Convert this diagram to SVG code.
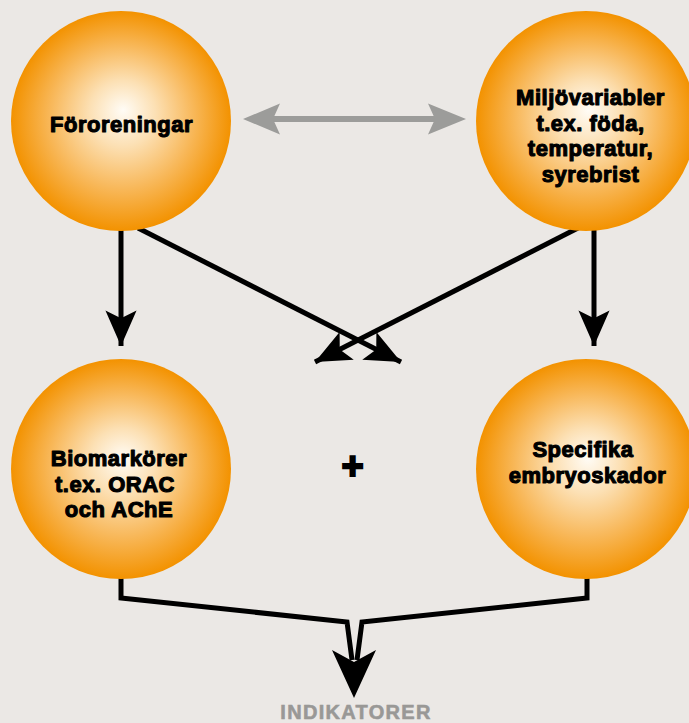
<svg xmlns="http://www.w3.org/2000/svg" width="689" height="723" viewBox="0 0 689 723">
  <style>
    .lbl { font-family: "Liberation Sans", Arial, sans-serif; font-weight: bold; font-size: 22px; letter-spacing: 0.5px; fill: #000; stroke: #000; stroke-width: 1.1px; stroke-linejoin: round; text-anchor: middle; }
    .ind { font-family: "Liberation Sans", Arial, sans-serif; font-weight: bold; font-size: 20px; letter-spacing: 1.3px; fill: #999896; stroke: #999896; stroke-width: 0.6px; text-anchor: middle; }
    .conn { fill: none; stroke: #000; stroke-width: 5; }
    .head { fill: #000; }
    .gray { fill: none; stroke: #9c9c9a; stroke-width: 6; }
    .ghead { fill: #9c9c9a; }
  </style>
  <defs>
    <radialGradient id="orb" cx="0.5" cy="0.5" r="0.5" fx="0.51" fy="0.45">
      <stop offset="0" stop-color="#fffcf6"/>
      <stop offset="0.3" stop-color="#fce0b4"/>
      <stop offset="0.65" stop-color="#f8b85a"/>
      <stop offset="1" stop-color="#f39200"/>
    </radialGradient>
    <marker id="ah" markerUnits="userSpaceOnUse" markerWidth="40" markerHeight="40" viewBox="-34 -16 36 32" refX="0" refY="0" orient="auto">
      <path d="M0,0 L-32,-14 L-25,0 L-32,14 Z" fill="#000"/>
    </marker>
  </defs>
  <rect width="689" height="723" fill="#ebe8e5"/>

  <g id="connectors">
    <g id="gray-double-arrow">
      <line class="gray" x1="270" y1="119" x2="440" y2="119"/>
      <polygon class="ghead" points="243,119 280,103.5 273,119 280,134.5"/>
      <polygon class="ghead" points="466,119 428,103.5 435,119 428,134.5"/>
    </g>
    <line class="conn" x1="121" y1="228" x2="121" y2="346" marker-end="url(#ah)"/>
    <line class="conn" x1="594" y1="228" x2="594" y2="346" marker-end="url(#ah)"/>
    <line class="conn" x1="138" y1="228" x2="401" y2="362" marker-end="url(#ah)"/>
    <line class="conn" x1="578" y1="228" x2="315" y2="362" marker-end="url(#ah)"/>
    <polyline class="conn" points="121,576 121,598 347,622 352,660"/>
    <polyline class="conn" points="587,576 587,598 362,622 357,660"/>
    <polygon class="head" points="332,650 354,662 376,650 354,698"/>
  </g>

  <g id="node-fororeningar">
    <circle cx="121" cy="121" r="110" fill="url(#orb)"/>
    <text class="lbl" x="121.5" y="132">Föroreningar</text>
  </g>

  <g id="node-miljovariabler">
    <circle cx="586" cy="121" r="110" fill="url(#orb)"/>
    <text class="lbl" x="590.5" y="105">Miljövariabler</text>
    <text class="lbl" x="590.5" y="130.5">t.ex. föda,</text>
    <text class="lbl" x="590.5" y="156">temperatur,</text>
    <text class="lbl" x="590.5" y="181.5">syrebrist</text>
  </g>

  <g id="node-biomarkorer">
    <circle cx="121" cy="469" r="110" fill="url(#orb)"/>
    <text class="lbl" x="119" y="466">Biomarkörer</text>
    <text class="lbl" x="115" y="492">t.ex. ORAC</text>
    <text class="lbl" x="119" y="517">och AChE</text>
  </g>

  <g id="node-embryoskador">
    <circle cx="586" cy="469" r="110" fill="url(#orb)"/>
    <text class="lbl" x="583" y="457">Specifika</text>
    <text class="lbl" x="587.5" y="483">embryoskador</text>
  </g>

  <g id="plus">
    <text x="352.5" y="479" font-family="Liberation Sans, Arial, sans-serif" font-weight="bold" font-size="38" stroke="#000" stroke-width="2" text-anchor="middle">+</text>
  </g>

  <g id="node-indikatorer">
    <text class="ind" x="356" y="719">INDIKATORER</text>
  </g>
</svg>
